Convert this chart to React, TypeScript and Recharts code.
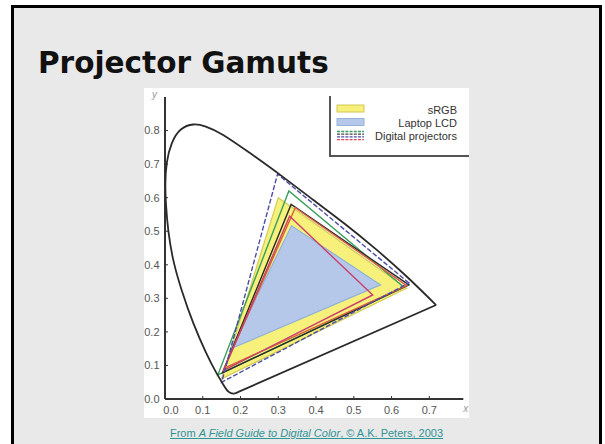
import { ScatterChart, Scatter, XAxis, YAxis } from "recharts";

type Pt = { x: number; y: number };

const xTicks = [0, 0.1, 0.2, 0.3, 0.4, 0.5, 0.6, 0.7];
const yTicks = [0, 0.1, 0.2, 0.3, 0.4, 0.5, 0.6, 0.7, 0.8];

// horseshoe from the red end, over the green peak, down to the violet tip
const spectralLocus: Pt[] = [
  { x: 0.718, y: 0.28 },
  { x: 0.64, y: 0.365 },
  { x: 0.56, y: 0.445 },
  { x: 0.475, y: 0.523 },
  { x: 0.393, y: 0.593 },
  { x: 0.305, y: 0.668 },
  { x: 0.225, y: 0.733 },
  { x: 0.154, y: 0.787 },
  { x: 0.108, y: 0.812 },
  { x: 0.075, y: 0.818 },
  { x: 0.042, y: 0.803 },
  { x: 0.018, y: 0.762 },
  { x: 0.005, y: 0.705 },
  { x: 0.001, y: 0.64 },
  { x: 0.003, y: 0.575 },
  { x: 0.009, y: 0.5 },
  { x: 0.022, y: 0.414 },
  { x: 0.044, y: 0.325 },
  { x: 0.075, y: 0.226 },
  { x: 0.108, y: 0.14 },
  { x: 0.135, y: 0.08 },
  { x: 0.155, y: 0.042 },
  { x: 0.168, y: 0.022 },
  { x: 0.182, y: 0.016 },
  { x: 0.196, y: 0.022 },
];
const purpleLine: Pt[] = [
  { x: 0.196, y: 0.022 },
  { x: 0.718, y: 0.28 },
];

const srgb: Pt[] = [
  { x: 0.64, y: 0.33 },
  { x: 0.3, y: 0.6 },
  { x: 0.15, y: 0.06 },
];
const laptopLcd: Pt[] = [
  { x: 0.571, y: 0.34 },
  { x: 0.335, y: 0.516 },
  { x: 0.175, y: 0.15 },
];

const projNavy: Pt[] = [
  { x: 0.646, y: 0.346 },
  { x: 0.298, y: 0.67 },
  { x: 0.15, y: 0.05 },
];
const projGreen: Pt[] = [
  { x: 0.632, y: 0.334 },
  { x: 0.328, y: 0.62 },
  { x: 0.14, y: 0.072 },
];
const projBlack: Pt[] = [
  { x: 0.646, y: 0.34 },
  { x: 0.334, y: 0.58 },
  { x: 0.152, y: 0.078 },
];
const projOrange: Pt[] = [
  { x: 0.64, y: 0.338 },
  { x: 0.345, y: 0.57 },
  { x: 0.157, y: 0.092 },
];
const projRed: Pt[] = [
  { x: 0.55, y: 0.31 },
  { x: 0.33, y: 0.545 },
  { x: 0.155, y: 0.085 },
];

const projectors = [
  { data: projGreen, color: "#3a9f5c", dash: undefined },
  { data: projBlack, color: "#2b2b2b", dash: undefined },
  { data: projOrange, color: "#d9603a", dash: undefined },
  { data: projRed, color: "#c8406c", dash: undefined },
  { data: projNavy, color: "#4c4ca6", dash: "5 2" },
];

const FONT = "'Liberation Sans', Arial, sans-serif";
const hidden = () => <g />;

const XTick = (props: any) => {
  const { x, y, payload } = props;
  // the origin label sits a little right of the corner
  const shift = payload.value === 0 ? 6 : 0;
  return (
    <text x={x + shift} y={y} dy="0.71em" textAnchor="middle" fontSize={11} fill="#555" fontFamily={FONT}>
      {payload.value.toFixed(1)}
    </text>
  );
};

const GamutLegend = () => (
  <svg width={140} height={62} style={{ position: "absolute", left: 185, top: 8 }}>
    <line x1={1} y1={0} x2={1} y2={60} stroke="#555" strokeWidth={2} />
    <line x1={0} y1={60} x2={140} y2={60} stroke="#555" strokeWidth={2} />
    <rect x={8} y={9} width={27} height={7} fill="#f7f17c" stroke="#cfc855" />
    <rect x={8} y={22.5} width={27} height={7} fill="#b6c8ea" stroke="#97b2dc" />
    {["#3a9f5c", "#444", "#4c4ca6", "#d84a60"].map((c, i) => (
      <line key={c} x1={8} x2={35} y1={35.5 + i * 2.7} y2={35.5 + i * 2.7} stroke={c} strokeWidth={1.3} strokeDasharray="3 1.2" />
    ))}
    <g fontFamily={FONT} fontSize={11} fill="#333" textAnchor="end">
      <text x={128} y={18}>sRGB</text>
      <text x={128} y={31.3}>Laptop LCD</text>
      <text x={128} y={43.7}>Digital projectors</text>
    </g>
  </svg>
);

export default function App() {
  return (
    <div style={{ position: "absolute", left: 0, top: 0, width: 605, height: 444, background: "#fff", overflow: "hidden" }}>
      <div
        style={{
          position: "absolute",
          left: 11,
          top: 5,
          width: 591,
          height: 470,
          boxSizing: "border-box",
          border: "3px solid #000",
          background: "#e9e9e9",
        }}
      />
      <div
        style={{
          position: "absolute",
          left: 38,
          top: 49,
          fontFamily: "'DejaVu Sans', Verdana, sans-serif",
          fontWeight: "bold",
          fontSize: 29.5,
          lineHeight: 1,
          color: "#111",
          whiteSpace: "nowrap",
        }}
      >
        Projector Gamuts
      </div>

      <div style={{ position: "absolute", left: 144, top: 88, width: 325, height: 330, background: "#fff" }}>
        <ScatterChart width={325} height={330} margin={{ top: 9, right: 5.7, bottom: 0, left: 0 }}>
          <XAxis
            type="number"
            dataKey="x"
            domain={[0, 0.79]}
            ticks={xTicks}
            allowDataOverflow
            height={19}
            axisLine={{ stroke: "#333", strokeWidth: 2 }}
            tickLine={{ stroke: "#333" }}
            tickSize={-3}
            tickMargin={10.5}
            tick={<XTick />}
            label={{ value: "x", position: "right", offset: 0, fill: "#999", fontSize: 10, fontStyle: "italic", fontFamily: FONT }}
          />
          <YAxis
            type="number"
            dataKey="y"
            domain={[0, 0.9]}
            ticks={yTicks}
            allowDataOverflow
            width={21}
            axisLine={{ stroke: "#333", strokeWidth: 2 }}
            tickLine={{ stroke: "#333" }}
            tickSize={-3}
            tickMargin={8.5}
            tickFormatter={(v: number) => v.toFixed(1)}
            tick={{ fontSize: 11, fill: "#555", fontFamily: FONT }}
            label={{ value: "y", position: "top", offset: -1, fill: "#999", fontSize: 10, fontStyle: "italic", fontFamily: FONT }}
          />
          <Scatter
            data={srgb}
            isAnimationActive={false}
            shape={hidden}
            legendType="none"
            lineJointType="linearClosed"
            line={{ stroke: "#d0cb55", strokeWidth: 1.2, fill: "#f7f17c" }}
          />
          <Scatter
            data={laptopLcd}
            isAnimationActive={false}
            shape={hidden}
            legendType="none"
            lineJointType="linearClosed"
            line={{ stroke: "#8fb2d6", strokeWidth: 1.2, fill: "#b6c8ea" }}
          />
          {projectors.map((p) => (
            <Scatter
              key={p.color}
              data={p.data}
              isAnimationActive={false}
              shape={hidden}
              legendType="none"
              lineJointType="linearClosed"
              line={{ stroke: p.color, strokeWidth: 1.4, fill: "none", strokeDasharray: p.dash }}
            />
          ))}
          <Scatter
            data={spectralLocus}
            isAnimationActive={false}
            shape={hidden}
            legendType="none"
            lineJointType="natural"
            line={{ stroke: "#2a2a2a", strokeWidth: 1.8, fill: "none" }}
          />
          <Scatter
            data={purpleLine}
            isAnimationActive={false}
            shape={hidden}
            legendType="none"
            lineJointType="linear"
            line={{ stroke: "#2a2a2a", strokeWidth: 1.8, fill: "none" }}
          />
        </ScatterChart>
        <GamutLegend />
      </div>

      <div
        style={{
          position: "absolute",
          left: 11,
          width: 591,
          top: 427,
          textAlign: "center",
          fontFamily: FONT,
          fontSize: 11,
          lineHeight: "13px",
          color: "#2e9494",
          textDecoration: "underline",
        }}
      >
        From <i>A Field Guide to Digital Color</i>, © A.K. Peters, 2003
      </div>
    </div>
  );
}
